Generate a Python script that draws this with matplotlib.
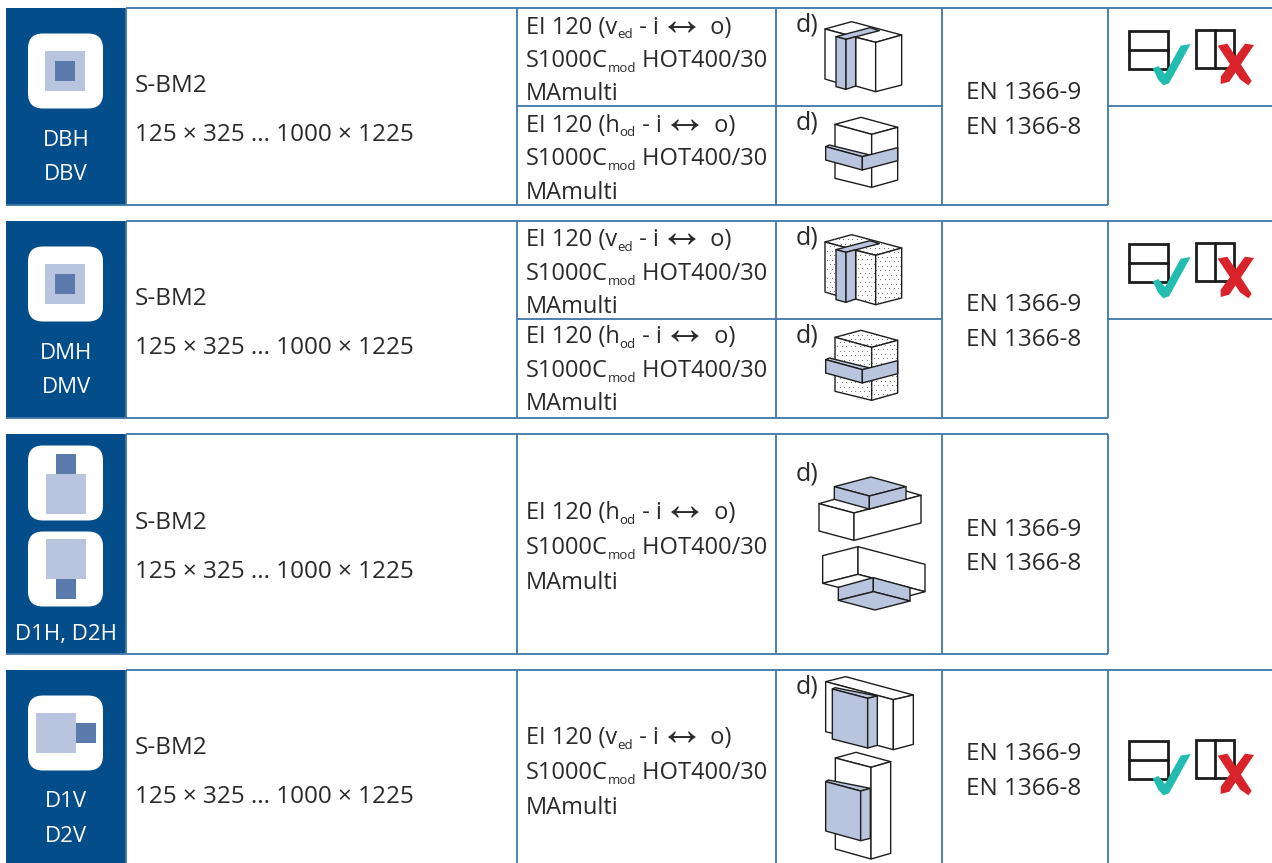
import numpy as np
import matplotlib
matplotlib.use("Agg")
import matplotlib.pyplot as plt
from matplotlib.patches import Polygon, Rectangle, FancyBboxPatch

plt.rcParams['font.family'] = ['Open Sans', 'DejaVu Sans']

# table contents
class_labels = [["DBH", "DBV"], ["DMH", "DMV"], ["D1H, D2H"], ["D1V", "D2V"]]
system_name = "S-BM2"
size_range = "125 × 325 ... 1000 × 1225"
standards = ["EN 1366-9", "EN 1366-8"]
rating_v = ["EI 120 (v", "ed", " - i", "↔", " o)"]
rating_h_od = ["EI 120 (h", "od", " - i", "↔", " o)"]
rating_line2 = ["S1000C", "mod", " HOT400/30"]
rating_line3 = ["MAmulti"]
subscripts = ["ed", "od", "mod"]
note = "d)"

NAVY = "#034d8a"
LINE = "#3f76a9"
LIGHT = "#b9c4de"
DARK = "#5b7bac"
INK = "#2b2a29"
FS = 17.5
FS_RATING = 17

fig = plt.figure(figsize=(12.72, 8.63), dpi=100)
ax = fig.add_axes([0, 0, 1, 1])
ax.set_xlim(0, 1272)
ax.set_ylim(863, 0)
ax.axis("off")


def hline(y, x0, x1):
    ax.plot([x0, x1], [y, y], color=LINE, lw=1.3, solid_capstyle="butt", zorder=3)


def vline(x, y0, y1):
    ax.plot([x, x], [y0, y1], color=LINE, lw=1.3, solid_capstyle="butt", zorder=3)


def box(x0, y0, x1, y1, color):
    ax.add_patch(Rectangle((x0, y0), x1 - x0, y1 - y0, fc=color, ec="none", zorder=2))


def icon(y0, light, dark):
    ax.add_patch(FancyBboxPatch((37, y0 + 9), 57, 57, boxstyle="round,pad=9,rounding_size=15",
                                fc="white", ec="none", zorder=2))
    box(*light, LIGHT)
    box(*dark, DARK)


def rich(x, y, parts):
    # parts placed one after the other: normal text, subscripts, a thin arrow
    r = fig.canvas.get_renderer()
    for part in parts:
        size, dy, family = FS_RATING, 0, ['Open Sans', 'DejaVu Sans']
        if part in subscripts:
            size, dy = 9.5, 5
        elif part == "↔":
            size, dy, family = 33, 1, ['Liberation Sans', 'DejaVu Sans']
        t = ax.text(x, y + dy, part, fontsize=size, family=family, color=INK,
                    va="baseline", ha="left", zorder=5)
        prop = t.get_fontproperties()
        # the dot keeps trailing spaces in the measured width
        w1 = r.get_text_width_height_descent(part + ".", prop, False)[0]
        w0 = r.get_text_width_height_descent(".", prop, False)[0]
        x += w1 - w0


def poly(pts, ox, oy, fc="white", dots=False):
    p = np.array(pts, dtype=float) / 3 + [ox, oy]
    z = 4.2 if fc == LIGHT else 4
    patch = Polygon(p, closed=True, fc=fc, ec="#1d1d1b", lw=1.0, joinstyle="round", zorder=z)
    ax.add_patch(patch)
    if dots:
        gx, gy = np.meshgrid(np.arange(p[:, 0].min(), p[:, 0].max(), 4.5),
                             np.arange(p[:, 1].min(), p[:, 1].max(), 4.5))
        gx[::2] += 2.2
        sc = ax.scatter(gx.ravel(), gy.ravel(), s=0.6, color="#6a6a6a", lw=0, zorder=4.05)
        sc.set_clip_path(patch)


def duct_vertical(ox, oy, dots=False):
    poly([(165, 87), (245, 65), (395, 105), (317, 127)], ox, oy, dots=dots)
    poly([(165, 87), (257, 112), (257, 258), (198, 247), (165, 237)], ox, oy, dots=dots)
    poly([(257, 112), (317, 127), (317, 275), (257, 258)], ox, oy, dots=dots)
    poly([(317, 127), (395, 105), (395, 255), (317, 275)], ox, oy, dots=dots)
    poly([(198, 110), (300, 83), (328, 92), (228, 118)], ox, oy, LIGHT)
    poly([(198, 110), (228, 118), (228, 268), (198, 260)], ox, oy, LIGHT)
    poly([(228, 118), (257, 110), (257, 258), (228, 268)], ox, oy, LIGHT)


def duct_horizontal(ox, oy, dots=False):
    poly([(195, 373), (273, 352), (383, 382), (305, 403)], ox, oy, dots=dots)
    poly([(195, 373), (305, 403), (305, 562), (195, 535)], ox, oy, dots=dots)
    poly([(305, 403), (383, 382), (383, 540), (305, 562)], ox, oy, dots=dots)
    poly([(167, 440), (178, 435), (300, 465), (277, 470)], ox, oy, LIGHT)
    poly([(167, 440), (277, 470), (277, 510), (167, 480)], ox, oy, LIGHT)
    poly([(277, 470), (383, 443), (383, 482), (277, 510)], ox, oy, LIGHT)


def window_marks(dy):
    ox, oy = 770, dy
    for (x0, y0, x1, y1), split in [((1077, 92, 1193, 207), "h"), ((1277, 90, 1392, 205), "v")]:
        x0, x1 = x0 / 3 + ox, x1 / 3 + ox
        y0, y1 = y0 / 3 + oy, y1 / 3 + oy
        ax.add_patch(Rectangle((x0, y0), x1 - x0, y1 - y0, fc="none", ec="#1d1d1b", lw=2, zorder=4))
        if split == "h":
            ax.plot([x0, x1], [(y0 + y1) / 2] * 2, color="#1d1d1b", lw=2, zorder=4)
        else:
            ax.plot([(x0 + x1) / 2] * 2, [y0, y1], color="#1d1d1b", lw=2, zorder=4)
    tick = [(1148, 205), (1165, 198), (1185, 222), (1232, 137), (1262, 132), (1197, 250),
            (1180, 256), (1165, 240)]
    ax.add_patch(Polygon(np.array(tick) / 3 + [ox, oy], fc="#22bdb0", ec="none", zorder=5))
    a = [(1343, 137), (1372, 131), (1445, 243), (1435, 256), (1410, 238)]
    b = [(1452, 135), (1425, 131), (1352, 230), (1352, 252), (1378, 245)]
    ax.add_patch(Polygon(np.array(a) / 3 + [ox, oy], fc="#d8232a", ec="none", zorder=5))
    ax.add_patch(Polygon(np.array(b) / 3 + [ox, oy], fc="#d8232a", ec="none", zorder=5))


# row tops/bottoms
rows = [(8, 205), (221, 418), (434, 654), (670, 864)]
for top, bot in rows:
    box(6, top, 126, bot, NAVY)
    hline(top, 126, 1108)
    hline(bot, 6, 1108)
    for x in [126, 517, 776, 942, 1108]:
        vline(x, top, bot)

hline(8, 1108, 1272)
hline(106, 517, 942)
hline(106, 1108, 1272)
hline(221, 1108, 1272)
hline(319, 517, 942)
hline(319, 1108, 1272)
hline(670, 1108, 1272)

# icons
icon(33.5, (45, 51, 85, 91), (55, 61, 75, 81))
icon(246.5, (45, 264, 85, 304), (55, 274, 75, 294))
icon(445.5, (46, 474, 86, 514), (56, 454, 76, 474))
icon(531.5, (46, 539, 86, 579), (56, 579, 76, 599))
icon(695.5, (36, 713, 76, 753), (76, 723, 96, 743))

# class labels
label_y = [[138, 172], [351, 385], [632], [799, 834]]
for labels, ys in zip(class_labels, label_y):
    for s, y in zip(labels, ys):
        ax.text(66, y, s, color="white", fontsize=16, ha="center", va="center_baseline", zorder=5)

# system column
for y0, y1 in [(83, 132), (296, 345), (520, 569), (745, 794)]:
    ax.text(135, y0 + 9, system_name, color=INK, fontsize=FS, va="baseline", zorder=5)
    ax.text(135, y1 + 9, size_range, color=INK, fontsize=FS, va="baseline", zorder=5)

# rating column
for base, first in [(33.5, rating_v), (131.5, rating_h_od), (246, rating_v), (343, rating_h_od),
                    (518.5, rating_h_od), (743.5, rating_v)]:
    gap = 35 if base >= 500 else 33.5
    rich(526, base, first)
    rich(526, base + gap, rating_line2)
    rich(526, base + 2 * gap, rating_line3)

# d) marks
for y in [31, 130, 244, 342, 480, 693]:
    ax.text(796, y, note, color=INK, fontsize=18, va="baseline", zorder=5)

# standards
for y0, y1 in [(90, 125), (302, 337), (527, 561), (751, 786)]:
    ax.text(1024, y0 + 9, standards[0], color=INK, fontsize=FS, ha="center", va="baseline", zorder=5)
    ax.text(1024, y1 + 9, standards[1], color=INK, fontsize=FS, ha="center", va="baseline", zorder=5)

# duct drawings
duct_vertical(770, 0)
duct_horizontal(770, 0)
duct_vertical(770, 213, dots=True)
duct_horizontal(770, 213, dots=True)

ox, oy = 770, 440
poly([(147, 191), (193, 178), (408, 153), (453, 166), (252, 219)], ox, oy)
poly([(147, 191), (252, 219), (252, 301), (147, 273)], ox, oy)
poly([(252, 219), (453, 166), (453, 249), (252, 301)], ox, oy)
poly([(193, 140), (303, 111), (408, 140), (298, 168)], ox, oy, LIGHT)
poly([(193, 140), (298, 168), (298, 207), (193, 178)], ox, oy, LIGHT)
poly([(298, 168), (408, 140), (408, 178), (298, 207)], ox, oy, LIGHT)
poly([(158, 347), (264, 320), (264, 403), (158, 430)], ox, oy)
poly([(264, 320), (465, 373), (465, 455), (264, 403)], ox, oy)
poly([(158, 430), (264, 403), (465, 455), (420, 467), (205, 442)], ox, oy)
poly([(205, 442), (310, 413), (310, 455), (205, 481)], ox, oy, LIGHT)
poly([(310, 413), (420, 443), (420, 483), (310, 455)], ox, oy, LIGHT)
poly([(205, 481), (310, 455), (420, 483), (315, 510)], ox, oy, LIGHT)

ox, oy = 770, 665
poly([(167, 50), (227, 35), (430, 90), (370, 104)], ox, oy)
poly([(167, 50), (370, 104), (370, 254), (322, 241), (187, 205), (167, 200)], ox, oy)
poly([(370, 104), (430, 90), (430, 238), (370, 254)], ox, oy)
poly([(187, 72), (195, 68), (322, 93), (293, 100)], ox, oy, LIGHT)
poly([(187, 72), (293, 100), (293, 249), (187, 222)], ox, oy, LIGHT)
poly([(293, 100), (322, 93), (322, 241), (293, 249)], ox, oy, LIGHT)
poly([(196, 279), (258, 262), (362, 290), (303, 307)], ox, oy)
poly([(196, 279), (303, 307), (303, 582), (196, 552)], ox, oy)
poly([(303, 307), (362, 290), (362, 565), (303, 582)], ox, oy)
poly([(167, 350), (175, 345), (301, 370), (272, 378)], ox, oy, LIGHT)
poly([(167, 350), (272, 378), (272, 527), (167, 498)], ox, oy, LIGHT)
poly([(272, 378), (301, 370), (301, 520), (272, 527)], ox, oy, LIGHT)

# check marks
window_marks(0)
window_marks(213)
window_marks(710)

fig.savefig("out.png", dpi=100)
